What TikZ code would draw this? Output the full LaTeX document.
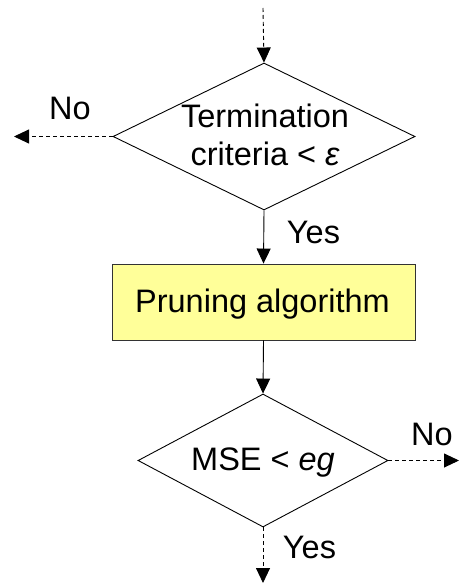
\documentclass[tikz,border=0pt]{standalone}
\usepackage{fontspec}
\setmainfont{Liberation Sans}
\usetikzlibrary{shapes.geometric,arrows.meta}
\definecolor{boxfill}{RGB}{255,255,153}
\begin{document}
\begin{tikzpicture}[x=1pt,y=-1pt,
  every node/.style={font=\fontsize{32.5}{38}\selectfont},
  decision/.style={draw=black,line width=0.9pt,shape=diamond,inner sep=0pt,minimum width=#1},
  procbox/.style={draw=black!80,line width=0.9pt,fill=boxfill,inner sep=0pt,minimum width=303pt,minimum height=76pt},
  flow/.style={line width=0.9pt,-{Triangle[length=15pt,width=14pt]}},
  dflow/.style={flow,dash pattern=on 4pt off 3pt},
  lbl/.style={anchor=base,inner sep=0pt}]
\useasboundingbox (0,0) rectangle (459,588);
\node[decision=302pt,minimum height=147pt] (d1) at (264,136.5) {};
\node[align=center,inner sep=0pt] (t1) at (265,134.5) {Termination\\criteria < {\itshape ε}};
\node[procbox] (p) at (263.5,302) {};
\node[lbl] (pt) at (262.5,312) {Pruning algorithm};
\node[decision=250pt,minimum height=133pt] (d2) at (263,460.5) {};
\node[lbl] (t2) at (263,470) {MSE < {\itshape eg}};
\coordinate (start) at (263,8);
\coordinate (endL) at (14,136.5);
\coordinate (endR) at (459,460.5);
\coordinate (endB) at (263,583);
\draw[dflow] (start) -- (d1.north);
\draw[dflow] (d1.west) -- (endL);
\draw[flow] (d1.south) -- (p.north);
\draw[flow] (p.south) -- (d2.north);
\draw[dflow] (d2.east) -- (endR);
\draw[dflow] (d2.south) -- (endB);
\node[lbl] (no1) at (70,120) {No};
\node[lbl] (yes1) at (313.5,243) {Yes};
\node[lbl] (no2) at (432,445) {No};
\node[lbl] (yes2) at (309.5,558) {Yes};
\end{tikzpicture}
\end{document}
